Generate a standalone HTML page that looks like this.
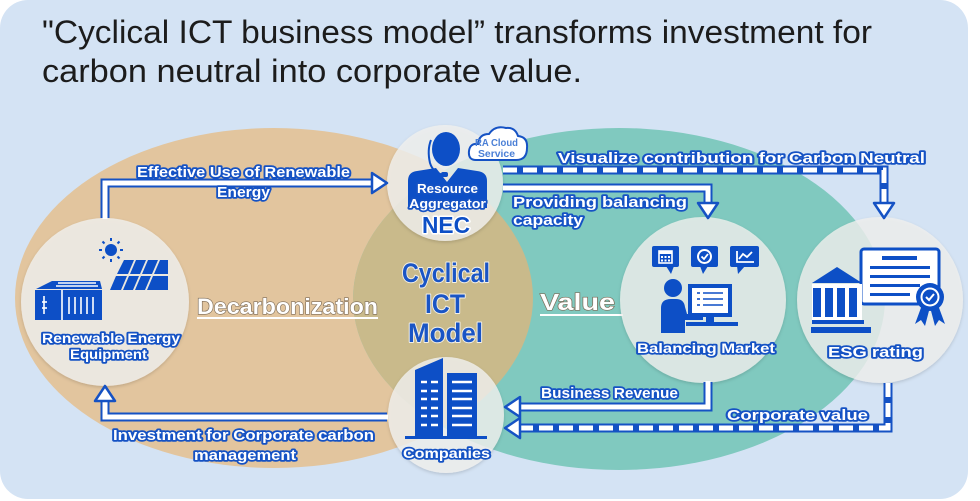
<!DOCTYPE html>
<html><head><meta charset="utf-8"><style>
html,body{margin:0;padding:0;background:#fff;}
svg{display:block;}
.lb{font-family:"Liberation Sans",sans-serif;font-weight:bold;fill:#fff;stroke:#1552c4;stroke-width:3.4px;paint-order:stroke;stroke-linejoin:round;}
.ct{font-family:"Liberation Sans",sans-serif;font-weight:bold;fill:#1a55c5;stroke:#f4f0e6;stroke-width:2px;paint-order:stroke;stroke-linejoin:round;}
.tt{font-family:"Liberation Sans","DejaVu Sans",sans-serif;fill:#1c1c1c;font-size:32px;}
.hd{font-family:"Liberation Sans",sans-serif;font-weight:bold;fill:#fff;stroke:#7d6c58;stroke-width:1.2px;paint-order:stroke;}
</style></head><body>
<svg width="980" height="501" viewBox="0 0 980 501" xmlns="http://www.w3.org/2000/svg">
<defs>
<clipPath id="tanc"><ellipse cx="274" cy="298" rx="259" ry="170"/></clipPath>
<filter id="sh" x="-20%" y="-20%" width="140%" height="140%"><feDropShadow dx="0" dy="1.5" stdDeviation="1.5" flood-color="#000" flood-opacity="0.18"/></filter>
</defs>
<rect x="0" y="0" width="968" height="499" rx="28" fill="#d4e3f4"/>
<text class="tt" x="42" y="43" textLength="830" lengthAdjust="spacingAndGlyphs">"Cyclical ICT business model” transforms investment for</text>
<text class="tt" x="42" y="82" textLength="540" lengthAdjust="spacingAndGlyphs">carbon neutral into corporate value.</text>

<ellipse cx="274" cy="298" rx="259" ry="170" fill="#e2c59e"/>
<ellipse cx="619" cy="299" rx="266" ry="171" fill="#80c9bf"/>
<ellipse cx="619" cy="299" rx="266" ry="171" fill="#c9ba8b" clip-path="url(#tanc)"/>

<!-- center texts -->
<text class="hd" x="197" y="314" font-size="22" textLength="181" lengthAdjust="spacingAndGlyphs">Decarbonization</text>
<rect x="197" y="317" width="181" height="2" fill="#fff"/>
<text class="hd" x="540" y="310" font-size="23" textLength="75" lengthAdjust="spacingAndGlyphs">Value</text>
<rect x="540" y="314" width="83" height="2" fill="#fff"/>
<text class="ct" x="402" y="282" font-size="27" textLength="88" lengthAdjust="spacingAndGlyphs">Cyclical</text>
<text class="ct" x="425" y="313" font-size="27" textLength="40" lengthAdjust="spacingAndGlyphs">ICT</text>
<text class="ct" x="408" y="342" font-size="27" textLength="75" lengthAdjust="spacingAndGlyphs">Model</text>

<!-- circles -->
<g filter="url(#sh)">
<circle cx="105" cy="302" r="84" fill="rgb(240,240,238)" fill-opacity="0.82"/>
<circle cx="445" cy="183" r="58" fill="rgb(240,240,238)" fill-opacity="0.82"/>
<circle cx="446" cy="415" r="58" fill="rgb(240,240,238)" fill-opacity="0.82"/>
<circle cx="703" cy="300" r="83" fill="rgb(240,240,238)" fill-opacity="0.8"/>
<circle cx="880" cy="300" r="83" fill="rgb(240,240,238)" fill-opacity="0.8"/>
</g>

<!-- arrows -->
<g fill="none" stroke-linejoin="miter">
<path d="M105,218 V183 H372" stroke="#1552c4" stroke-width="9"/>
<path d="M105,219 V183 H373" stroke="#fff" stroke-width="5"/>
<path d="M503,170 H884 V204" stroke="#1552c4" stroke-width="9"/>
<path d="M503,170 H884 V204" stroke="#fff" stroke-width="5" stroke-dasharray="14 6"/>
<path d="M503,188 H708 V204" stroke="#1552c4" stroke-width="9"/>
<path d="M503,188 H708 V205" stroke="#fff" stroke-width="5"/>
<path d="M708,382 V407 H519" stroke="#1552c4" stroke-width="9"/>
<path d="M708,381 V407 H518" stroke="#fff" stroke-width="5"/>
<path d="M888,383 V428 H519" stroke="#1552c4" stroke-width="9"/>
<path d="M888,383 V428 H519" stroke="#fff" stroke-width="5" stroke-dasharray="14 6"/>
<path d="M387,417 H105 V400" stroke="#1552c4" stroke-width="9"/>
<path d="M388,417 H105 V399" stroke="#fff" stroke-width="5"/>
</g>
<g fill="#fff" stroke="#1552c4" stroke-width="2.5" stroke-linejoin="round">
<polygon points="372,173 387,183 372,193"/>
<polygon points="874,203 884,218 894,203"/>
<polygon points="698,203 708,218 718,203"/>
<polygon points="520,397 505,407 520,417"/>
<polygon points="520,418 505,428 520,438"/>
<polygon points="95,401 105,386 115,401"/>
</g>

<!-- arrow labels -->
<text class="lb" x="137" y="177" font-size="14.5" textLength="213" lengthAdjust="spacingAndGlyphs">Effective Use of Renewable</text>
<text class="lb" x="217" y="197" font-size="14.5" textLength="53" lengthAdjust="spacingAndGlyphs">Energy</text>
<text class="lb" x="558" y="163" font-size="14.5" textLength="367" lengthAdjust="spacingAndGlyphs">Visualize contribution for Carbon Neutral</text>
<text class="lb" x="513" y="207" font-size="14.5" textLength="174" lengthAdjust="spacingAndGlyphs">Providing balancing</text>
<text class="lb" x="513" y="225" font-size="14.5" textLength="70" lengthAdjust="spacingAndGlyphs">capacity</text>
<text class="lb" x="541" y="398" font-size="14.5" textLength="137" lengthAdjust="spacingAndGlyphs">Business Revenue</text>
<text class="lb" x="727" y="420" font-size="14.5" textLength="141" lengthAdjust="spacingAndGlyphs">Corporate value</text>
<text class="lb" x="113" y="440" font-size="14.5" textLength="261" lengthAdjust="spacingAndGlyphs">Investment for Corporate carbon</text>
<text class="lb" x="194" y="460" font-size="14.5" textLength="102" lengthAdjust="spacingAndGlyphs">management</text>

<!-- Renewable icon -->
<g fill="#0d4fc6">
<circle cx="111" cy="250" r="6"/>
<g stroke="#0d4fc6" stroke-width="2">
<line x1="111" y1="238" x2="111" y2="241"/><line x1="111" y1="259" x2="111" y2="262"/>
<line x1="99" y1="250" x2="102" y2="250"/><line x1="120" y1="250" x2="123" y2="250"/>
<line x1="102.5" y1="241.5" x2="104.5" y2="243.5"/><line x1="117.5" y1="256.5" x2="119.5" y2="258.5"/>
<line x1="119.5" y1="241.5" x2="117.5" y2="243.5"/><line x1="104.5" y1="256.5" x2="102.5" y2="258.5"/>
</g>
<polygon points="124,260 134,260 128,274 117,274"/>
<polygon points="136,260 146,260 140,274 130,274"/>
<polygon points="148,260 158,260 152,274 142,274"/>
<polygon points="160,260 168,260 168,274 154,274"/>
<polygon points="116,276 127,276 121,290 110,290"/>
<polygon points="129,276 139,276 133,290 123,290"/>
<polygon points="141,276 151,276 145,290 135,290"/>
<polygon points="153,276 168,276 168,290 147,290"/>
<polygon points="36,289 52,281 100,281 102,289"/>
<rect x="35" y="290" width="67" height="30"/>
</g>
<g stroke="#fff" stroke-width="1.6">
<line x1="62" y1="290" x2="62" y2="320"/>
<line x1="58" y1="283" x2="96" y2="283"/><line x1="56" y1="286" x2="98" y2="286"/>
<line x1="69" y1="297" x2="69" y2="314"/><line x1="75" y1="297" x2="75" y2="314"/><line x1="81" y1="297" x2="81" y2="314"/><line x1="87" y1="297" x2="87" y2="314"/><line x1="93" y1="297" x2="93" y2="314"/>
<line x1="44" y1="296" x2="44" y2="314"/><line x1="42" y1="302" x2="47" y2="302"/><line x1="42" y1="308" x2="47" y2="308"/>
</g>
<text class="lb" x="42" y="343" font-size="13.5" textLength="138" lengthAdjust="spacingAndGlyphs">Renewable Energy</text>
<text class="lb" x="70" y="359" font-size="13.5" textLength="77" lengthAdjust="spacingAndGlyphs">Equipment</text>

<!-- NEC icon -->
<ellipse cx="446" cy="149" rx="14" ry="17" fill="#0d4fc6"/>
<path d="M431,140 Q427,150 430,163 Q433,173 444,175" fill="none" stroke="#0d4fc6" stroke-width="2"/>
<rect x="441" y="172" width="7" height="5" rx="2" fill="#0d4fc6"/>
<path d="M408,208 V181 Q408,172 417,171 L436,168 L447,182 L458,168 L477,171 Q487,172 487,181 V208 Z" fill="#0d4fc6"/>
<text class="lb" x="417" y="193" font-size="13" textLength="61" lengthAdjust="spacingAndGlyphs" stroke-width="2">Resource</text>
<text class="lb" x="409" y="208" font-size="13" textLength="77" lengthAdjust="spacingAndGlyphs" stroke-width="2">Aggregator</text>
<text x="422" y="233" font-family="Liberation Sans,sans-serif" font-weight="bold" font-size="23" fill="#0d4fc6" stroke="#fff" stroke-width="3" paint-order="stroke" stroke-linejoin="round" textLength="48" lengthAdjust="spacingAndGlyphs">NEC</text>
<path d="M476,160 Q468,160 469,151 Q470,143 478,144 Q479,134 489,134 Q495,125 506,128 Q515,127 518,136 Q528,137 527,148 Q527,160 516,160 Z" fill="#fff" stroke="#1552c4" stroke-width="2"/>
<text x="475" y="146" font-family="Liberation Sans,sans-serif" font-weight="bold" font-size="10" fill="#4a7fd6" textLength="43" lengthAdjust="spacingAndGlyphs">RA Cloud</text>
<text x="478" y="157" font-family="Liberation Sans,sans-serif" font-weight="bold" font-size="10" fill="#4a7fd6" textLength="37" lengthAdjust="spacingAndGlyphs">Service</text>

<!-- Companies icon -->
<g fill="#0d4fc6">
<polygon points="415,370 443,358 443,437 415,437"/>
<rect x="447" y="373" width="30" height="64"/>
<rect x="405" y="436" width="82" height="3"/>
</g>
<g stroke="#fff" stroke-width="2.5">
<line x1="421" y1="382" x2="427" y2="382"/><line x1="431" y1="382" x2="438" y2="382"/>
<line x1="421" y1="391" x2="427" y2="391"/><line x1="431" y1="391" x2="438" y2="391"/>
<line x1="421" y1="399" x2="427" y2="399"/><line x1="431" y1="399" x2="438" y2="399"/>
<line x1="421" y1="408" x2="427" y2="408"/><line x1="431" y1="408" x2="438" y2="408"/>
<line x1="421" y1="416" x2="427" y2="416"/><line x1="431" y1="416" x2="438" y2="416"/>
<line x1="421" y1="425" x2="427" y2="425"/><line x1="431" y1="425" x2="438" y2="425"/>
<line x1="452" y1="382" x2="472" y2="382"/><line x1="452" y1="391" x2="472" y2="391"/>
<line x1="452" y1="399" x2="472" y2="399"/><line x1="452" y1="408" x2="472" y2="408"/>
<line x1="452" y1="416" x2="472" y2="416"/><line x1="452" y1="425" x2="472" y2="425"/>
</g>
<text class="lb" x="403" y="458" font-size="14" textLength="87" lengthAdjust="spacingAndGlyphs">Companies</text>

<!-- Balancing market icon -->
<g fill="#0d4fc6">
<rect x="652" y="246" width="27" height="21" rx="2"/><polygon points="666,266 674,266 671,274"/>
<rect x="691" y="246" width="27" height="21" rx="2"/><polygon points="700,266 708,266 703,274"/>
<rect x="730" y="246" width="29" height="21" rx="2"/><polygon points="737,266 745,266 738,274"/>
<circle cx="673" cy="288" r="9"/>
<path d="M661,333 V308 Q661,299 671,299 H676 Q684,299 685,307 L687,314 H703 V320 H685 V333 Z"/>
<rect x="688" y="284" width="44" height="33"/>
<rect x="706" y="317" width="8" height="5"/>
<rect x="686" y="322" width="52" height="4"/>
</g>
<rect x="692" y="288" width="36" height="25" fill="#fff"/>
<rect x="659" y="251" width="13" height="12" fill="none" stroke="#fff" stroke-width="1.6"/>
<g fill="#fff">
<rect x="659" y="251" width="13" height="3"/>
<rect x="661" y="256" width="2" height="2"/><rect x="664.5" y="256" width="2" height="2"/><rect x="668" y="256" width="2" height="2"/>
<rect x="661" y="259.5" width="2" height="2"/><rect x="664.5" y="259.5" width="2" height="2"/><rect x="668" y="259.5" width="2" height="2"/>
</g>
<g stroke="#0d4fc6" stroke-width="1.6">
<line x1="697" y1="293" x2="700" y2="293"/><line x1="703" y1="293" x2="723" y2="293"/>
<line x1="697" y1="299" x2="700" y2="299"/><line x1="703" y1="299" x2="723" y2="299"/>
<line x1="697" y1="305" x2="700" y2="305"/><line x1="703" y1="305" x2="723" y2="305"/>
</g>
<circle cx="704.5" cy="256.5" r="6.5" fill="none" stroke="#fff" stroke-width="2"/>
<polyline points="701.5,256.5 704,259 708,254" fill="none" stroke="#fff" stroke-width="1.8"/>
<polyline points="737,251 737,262 754,262" fill="none" stroke="#fff" stroke-width="1.8"/>
<polyline points="739,259 743,254 747,257 752,252" fill="none" stroke="#fff" stroke-width="1.8"/>
<text class="lb" x="637" y="353" font-size="14" textLength="138" lengthAdjust="spacingAndGlyphs">Balancing Market</text>

<!-- ESG icon -->
<rect x="861" y="249" width="78" height="55" rx="3" fill="#fff" stroke="#0d4fc6" stroke-width="3"/>
<g fill="#0d4fc6">
<rect x="882" y="256" width="35" height="4"/>
<rect x="870" y="266" width="60" height="3"/>
<rect x="870" y="275" width="60" height="3"/>
<rect x="870" y="284" width="50" height="3"/>
<rect x="870" y="293" width="40" height="3"/>
<polygon points="837,267 812,283 862,283"/>
<rect x="812" y="284" width="50" height="36" fill="#fff"/>
<rect x="813" y="288" width="8" height="29"/><rect x="825" y="288" width="8" height="29"/><rect x="837" y="288" width="8" height="29"/><rect x="849" y="288" width="8" height="29"/>
<rect x="812" y="320" width="52" height="4"/>
<rect x="811" y="327" width="60" height="6"/>
<polygon points="922,305 915,324 921,320 925,326 930,307"/>
<polygon points="938,305 945,324 939,320 935,326 930,307"/>
<circle cx="930" cy="297" r="14"/>
</g>
<circle cx="930" cy="297" r="9.5" fill="#fff"/>
<circle cx="930" cy="297" r="7.5" fill="#0d4fc6"/>
<polyline points="926,297 929,300 934,294" fill="none" stroke="#fff" stroke-width="2"/>
<text class="lb" x="828" y="357" font-size="15" textLength="95" lengthAdjust="spacingAndGlyphs">ESG rating</text>
</svg>
</body></html>
